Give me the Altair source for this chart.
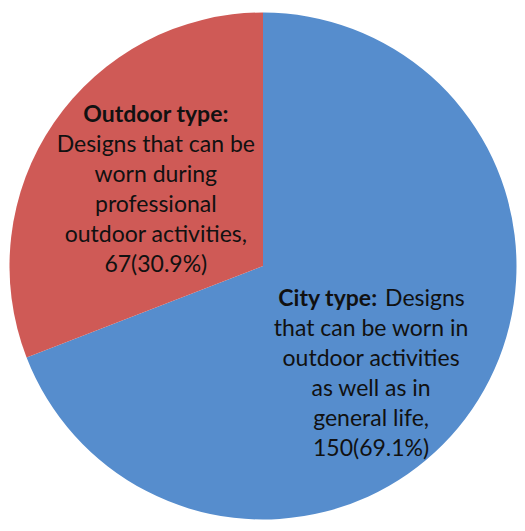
import altair as alt
import pandas as pd

categories = ["City type", "Outdoor type"]
counts = [150, 67]
percents = ["69.1%", "30.9%"]
bold_heads = ["City type:", "Outdoor type:"]
first_lines = ["Designs", ""]
desc_lines = [
    ["that can be worn in", "outdoor activities", "as well as in", "general life,"],
    ["Designs that can be", "worn during", "professional", "outdoor activities,"],
]
colors = ["#568DCD", "#CF5A56"]

rows = []
for i, c in enumerate(categories):
    rows.append({
        "category": c,
        "count": counts[i],
        "order": i,
        "head": bold_heads[i],
        "first": first_lines[i],
        "body": "\n".join(desc_lines[i] + [f"{counts[i]}({percents[i]})"]),
    })
df = pd.DataFrame(rows)

W, H = 509, 515
CX, CY = 255, 258
R = 253.5
FONT = "Lato"
FS = 23
LH = 30
TXT = "#111111"

base = alt.Chart(df)

pie = base.mark_arc(outerRadius=R).encode(
    theta=alt.Theta("count:Q", stack=True),
    color=alt.Color("category:N", scale=alt.Scale(domain=categories, range=colors), legend=None),
    order=alt.Order("order:Q"),
    x=alt.value(CX),
    y=alt.value(CY),
)

ang = base.transform_window(
    cum="sum(count)", sort=[alt.SortField("order")], frame=[None, 0]
).transform_joinaggregate(
    total="sum(count)"
).transform_calculate(
    mid="(datum.cum - datum.count / 2) / datum.total * 2 * PI"
)

def txt(chart, cat, field, radius, dx, dy, **kw):
    return chart.transform_filter(alt.datum.category == cat).mark_text(
        radius=radius, dx=dx, dy=dy, font=FONT, fontSize=FS, lineHeight=LH,
        color=TXT, baseline="middle", lineBreak="\n", **kw
    ).encode(
        theta=alt.Theta("mid:Q", scale=None),
        text=alt.Text(f"{field}:N"),
        x=alt.value(CX),
        y=alt.value(CY),
    )

# Outdoor label
odx, ody, orad = 5, 1, 136
out_head = txt(ang, "Outdoor type", "head", orad, odx, ody - 2.5 * LH, fontWeight="bold", align="center")
out_body = txt(ang, "Outdoor type", "body", orad, odx, ody - 1.5 * LH, align="center")

# City label
cdx, cdy, crad = -14, 24, 148
city_head = txt(ang, "City type", "head", crad, cdx + 6, cdy - 2.5 * LH, fontWeight="bold", align="right")
city_first = txt(ang, "City type", "first", crad, cdx + 14, cdy - 2.5 * LH, align="left")
city_body = txt(ang, "City type", "body", crad, cdx, cdy - 1.5 * LH, align="center")

chart = alt.layer(pie, out_head, out_body, city_head, city_first, city_body).resolve_scale(
    theta="independent"
).properties(
    width=W, height=H, padding=0, autosize=alt.AutoSizeParams(type="none")
).configure_view(strokeWidth=0, stroke="transparent")

chart.save("out.html", embed_options={"renderer": "svg", "actions": False})
